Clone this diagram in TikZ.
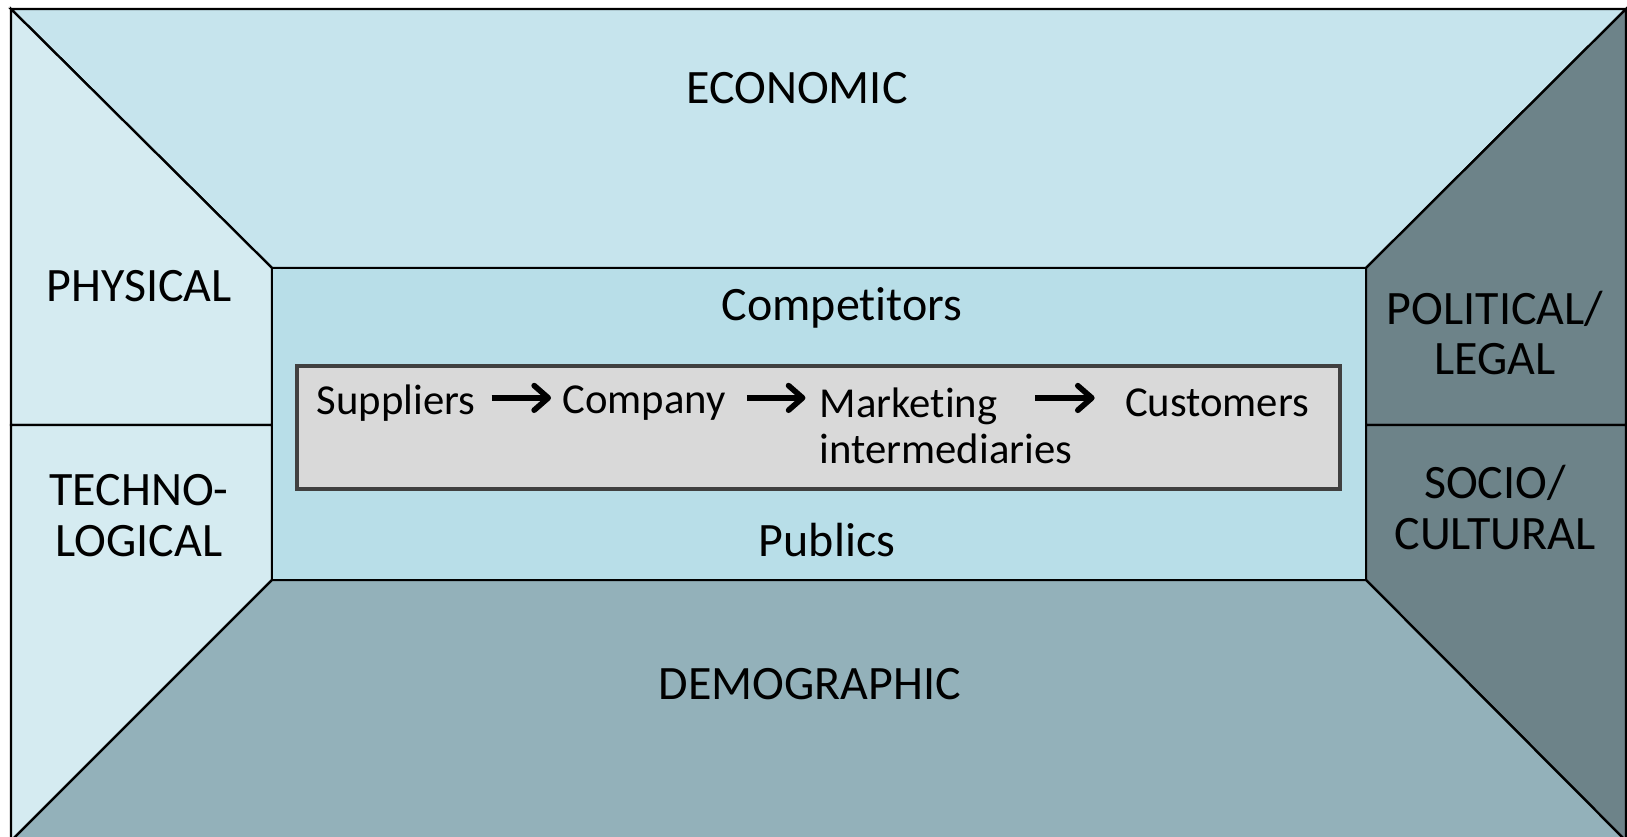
\documentclass[tikz,border=0pt]{standalone}
\usepackage{fontspec}
\setmainfont{Carlito}[Ligatures=NoCommon]
\usepackage{xcolor}
\usetikzlibrary{arrows.meta, positioning, calc}

\definecolor{econfill}{HTML}{C6E4ED}
\definecolor{sidefill}{HTML}{D5EBF1}
\definecolor{corefill}{HTML}{B8DEE8}
\definecolor{demofill}{HTML}{93B1BA}
\definecolor{polfill}{HTML}{6D8389}
\definecolor{boxfill}{HTML}{D9D9D9}
\definecolor{boxline}{HTML}{404040}

\begin{document}
\begin{tikzpicture}[
    x=0.02cm, y=-0.02cm,
    font=\fontsize{27.3}{29}\selectfont,
    panel/.style={draw=black, line width=1.3pt},
    lbl/.style={align=center, inner sep=0pt},
    chain/.style={lbl, font=\fontsize{24.3}{26}\selectfont},
    chainbox/.style={draw=boxline, fill=boxfill, line width=2.2pt},
    flow/.style={line width=3.2pt, -{Straight Barb[length=8pt, width=14pt, round]}}
]

    \useasboundingbox (0,0) rectangle (1627,837);
    \clip (0,0) rectangle (1627,837);

    % Outer panels
    \filldraw[panel, fill=econfill] (11,9) -- (1626,9) -- (1366,268) -- (272,268) -- cycle;
    \filldraw[panel, fill=sidefill] (11,9) -- (272,268) -- (272,425) -- (11,425) -- cycle;
    \filldraw[panel, fill=sidefill] (11,425) -- (272,425) -- (272,580) -- (11,841) -- cycle;
    \filldraw[panel, fill=polfill] (1626,9) -- (1366,268) -- (1366,425) -- (1626,425) -- cycle;
    \filldraw[panel, fill=polfill] (1626,425) -- (1366,425) -- (1366,580) -- (1626,841) -- cycle;
    \filldraw[panel, fill=demofill] (272,580) -- (1366,580) -- (1626,841) -- (11,841) -- cycle;
    \filldraw[panel, fill=corefill] (272,268) rectangle (1366,580);

    % Company chain box
    \draw[chainbox] (297,366) rectangle (1340,489);

    % Forces
    \node[lbl] (econ) at (797,88) {ECONOMIC};
    \node[lbl] (phys) at (139,286) {PHYSICAL};
    \node[lbl] (tech) at (139,516) {TECHNO-\\LOGICAL};
    \node[lbl] (pol) at (1495,333) {POLITICAL/\\LEGAL};
    \node[lbl] (soc) at (1495,508) {SOCIO/\\CULTURAL};
    \node[lbl] (demo) at (810,684) {DEMOGRAPHIC};

    % Microenvironment
    \node[lbl] (compet) at (842,308) {Competitors};
    \node[lbl] (pub) at (827,540) {Publics};

    \node[chain] (sup) at (396,403) {Suppliers};
    \node[chain] (cmp) at (644,403) {Company};
    \node[chain, align=left] (mkt) at (946,426) {Marketing\\intermediaries};
    \node[chain] (cust) at (1217,403) {Customers};
    \coordinate (mktout) at (1035,398);

    % Flow arrows
    \draw[flow, shorten <=0.32cm, shorten >=0.22cm] ([yshift=2.9pt]sup.east) -- ([yshift=2.9pt]cmp.west);
    \draw[flow, shorten <=0.42cm, shorten >=0.28cm] ([yshift=2.9pt]cmp.east) -- ([yshift=2.9pt]cmp.east -| mkt.west);
    \draw[flow, shorten >=0.6cm] (mktout) -- ([yshift=2.9pt]cust.west);

\end{tikzpicture}
\end{document}
